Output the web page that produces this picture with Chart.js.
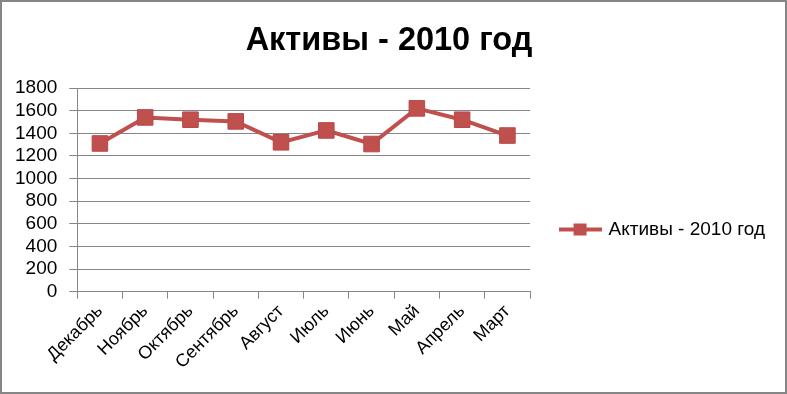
<!DOCTYPE html>
<html>
<head>
<meta charset="utf-8">
<script src="https://cdn.jsdelivr.net/npm/chart.js@4/dist/chart.umd.min.js"></script>
<style>
html,body{margin:0;padding:0;background:#fff;}
#wrap{position:relative;width:787px;height:394px;}
#frame{position:absolute;left:0;top:0;width:787px;height:394px;box-sizing:border-box;border:2px solid #868686;pointer-events:none;}
canvas{display:block;}
</style>
</head>
<body>
<div id="wrap"><canvas id="c" width="787" height="394"></canvas><div id="frame"></div></div>
<script>
const titleText = 'Активы - 2010 год';
const seriesLabel = 'Активы - 2010 год';
const categories = ['Декабрь','Ноябрь','Октябрь','Сентябрь','Август','Июль','Июнь','Май','Апрель','Март'];
const assets2010 = [1310, 1540, 1520, 1505, 1320, 1425, 1305, 1620, 1520, 1380];
const yTicks = [0,200,400,600,800,1000,1200,1400,1600,1800];

const RED = '#C0504D';
const GRID = '#868686';
const FONT = 'Liberation Sans, Arial, sans-serif';

// legend symbol: line with square marker
const sym = document.createElement('canvas');
sym.width = 43; sym.height = 14;
(function(){
  const g = sym.getContext('2d');
  g.strokeStyle = RED; g.lineWidth = 4;
  g.beginPath(); g.moveTo(0,7); g.lineTo(43,7); g.stroke();
  g.fillStyle = RED; g.fillRect(15,1,13,12);
})();

const legendShift = {
  id: 'legendShift',
  afterLayout(chart){
    const l = chart.legend;
    if (l) { l.top += 42; l.bottom += 42; }
  }
};

new Chart(document.getElementById('c'), {
  type: 'line',
  data: {
    labels: categories,
    datasets: [{
      label: seriesLabel,
      data: assets2010,
      borderColor: RED,
      backgroundColor: RED,
      borderWidth: 4,
      pointStyle: 'rect',
      pointRadius: 11,
      pointHoverRadius: 11,
      pointBackgroundColor: RED,
      pointBorderColor: '#B9474A',
      pointBorderWidth: 1,
      tension: 0,
      fill: false
    }]
  },
  options: {
    responsive: false,
    animation: false,
    devicePixelRatio: 1,
    layout: { padding: { left: 3, right: 12, top: 0, bottom: 19 } },
    plugins: {
      title: {
        display: true,
        text: titleText,
        color: '#000',
        font: { family: FONT, size: 32.5, weight: 'bold' },
        padding: { top: 22, bottom: 27 }
      },
      legend: {
        display: true,
        position: 'right',
        maxWidth: 400,
        labels: {
          usePointStyle: true,
          pointStyle: sym,
          pointStyleWidth: 38,
          padding: 31,
          color: '#000',
          font: { family: FONT, size: 19 }
        }
      },
      tooltip: { enabled: false }
    },
    scales: {
      x: {
        offset: true,
        grid: { display: true, drawOnChartArea: false, offset: true, tickLength: 7, color: GRID },
        border: { display: true, color: GRID, width: 1 },
        ticks: { color: '#000', font: { family: FONT, size: 18 }, minRotation: 45, maxRotation: 45, padding: 2, autoSkip: false }
      },
      y: {
        min: 0, max: 1800,
        afterBuildTicks(scale){ scale.ticks = yTicks.map(v => ({value: v})); },
        grid: { display: true, color: GRID, tickLength: 8 },
        border: { display: true, color: GRID, width: 1 },
        ticks: { color: '#000', font: { family: FONT, size: 19 }, padding: 12, autoSkip: false,
                 callback: (v) => String(v) }
      }
    }
  },
  plugins: [legendShift]
});
</script>
</body>
</html>
